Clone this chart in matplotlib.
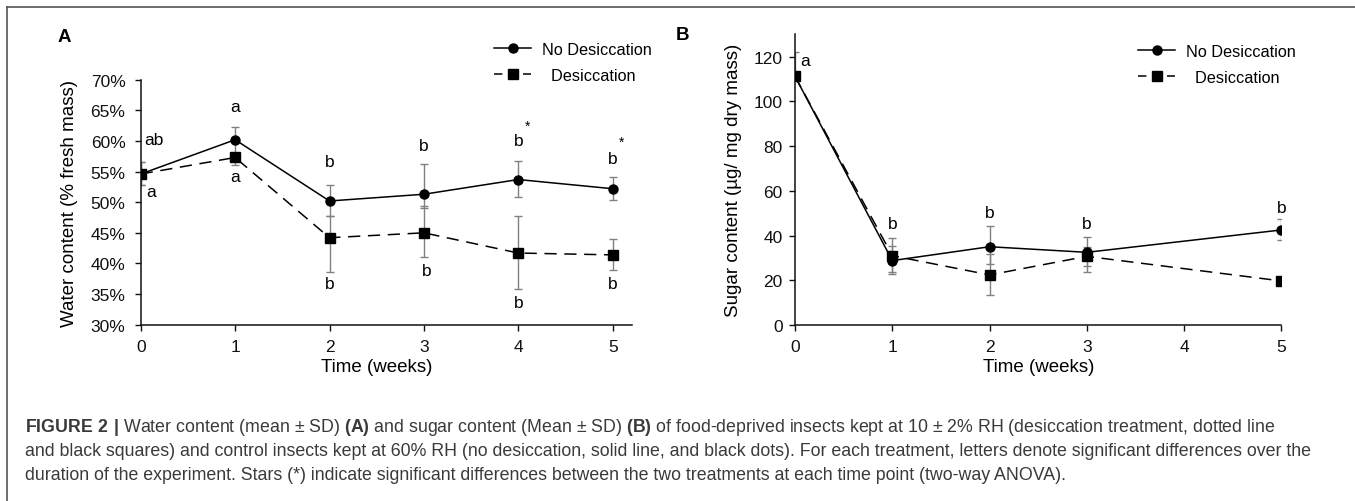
import matplotlib
matplotlib.use("Agg")
import matplotlib.pyplot as plt
from matplotlib.lines import Line2D

plt.rcParams['font.family'] = ['Liberation Sans', 'DejaVu Sans']
plt.rcParams['mathtext.fontset'] = 'custom'
plt.rcParams['mathtext.rm'] = 'Liberation Sans'
plt.rcParams['mathtext.bf'] = 'Liberation Sans:bold'

# --- data, panel A (water content, %)
weeks_a = [0, 1, 2, 3, 4, 5]
water_ctrl = [54.6, 60.2, 50.2, 51.3, 53.7, 52.2]
water_ctrl_lo = [52.8, 58.1, 47.7, 49.1, 50.9, 50.3]
water_ctrl_hi = [56.6, 62.3, 52.8, 56.3, 56.8, 54.1]
water_des = [54.6, 57.3, 44.2, 45.0, 41.7, 41.4]
water_des_lo = [52.8, 56.1, 38.6, 41.1, 35.8, 39.0]
water_des_hi = [56.6, 58.1, 47.7, 49.3, 47.7, 44.0]

# letters: (x, y, text)
letters_a = [(0.04, 60.3, 'ab'), (0.06, 51.7, 'a'),
             (1, 65.6, 'a'), (1, 54.2, 'a'),
             (2, 56.6, 'b'), (2, 36.7, 'b'),
             (3, 59.3, 'b'), (3.03, 38.8, 'b'),
             (4, 60.0, 'b'), (4, 33.7, 'b'),
             (5, 57.1, 'b'), (5, 36.7, 'b')]
stars_a = [(4.1, 62.4), (5.09, 59.8)]

# --- data, panel B (sugar content)
weeks_b = [0, 1, 2, 3, 5]
sugar_ctrl = [111.2, 28.8, 35.0, 32.5, 42.5]
sugar_ctrl_lo = [111.2, 22.8, 27.3, 26.5, 38.2]
sugar_ctrl_hi = [122.0, 38.9, 44.4, 39.5, 47.4]
sugar_des = [111.2, 31.0, 22.4, 30.7, 19.7]
sugar_des_lo = [111.2, 23.6, 13.6, 23.6, 19.7]
sugar_des_hi = [111.2, 35.5, 31.8, 34.7, 19.7]

letters_b = [(0.05, 118.5, 'a'), (1, 45.2, 'b'), (2, 50.4, 'b'),
             (3, 45.2, 'b'), (5, 52.6, 'b')]

series_names = ['No Desiccation', '  Desiccation']

caption = [
    r"$\mathbf{FIGURE\ 2\ |}$ Water content (mean ± SD) $\mathbf{(A)}$ and sugar content (Mean ± SD) $\mathbf{(B)}$ of food-deprived insects kept at 10 ± 2% RH (desiccation treatment, dotted line",
    "and black squares) and control insects kept at 60% RH (no desiccation, solid line, and black dots). For each treatment, letters denote significant differences over the",
    "duration of the experiment. Stars (*) indicate significant differences between the two treatments at each time point (two-way ANOVA).",
]

ecol = '#808080'
W, H = 1355, 502

fig = plt.figure(figsize=(W / 100, H / 100), dpi=100)


def style_axes(ax, ypad):
    for s in ['top', 'right']:
        ax.spines[s].set_visible(False)
    for s in ['left', 'bottom']:
        ax.spines[s].set_linewidth(1.1)
        ax.spines[s].set_color('#111111')
    ax.tick_params(direction='out', length=4, width=1.0, labelsize=12.5,
                   colors='#111111')
    ax.tick_params(axis='x', pad=6)
    ax.tick_params(axis='y', pad=ypad)


def draw_series(ax, x, y, lo, hi, ctrl):
    yerr = [[a - b for a, b in zip(y, lo)], [b - a for a, b in zip(y, hi)]]
    ax.errorbar(x, y, yerr=yerr, fmt='none', ecolor=ecol, elinewidth=1.0,
                capsize=3, capthick=1.0, zorder=2)
    if ctrl:
        ax.plot(x, y, color='black', lw=1.1, marker='o', ms=6.5, zorder=3)
    else:
        ax.plot(x, y, color='black', lw=1.1, ls=(0, (8, 5)), marker='s',
                ms=6.5, zorder=3)


# legend proxies (shorter dashes, as in the original key)
handles = [Line2D([], [], color='black', lw=1.1, marker='o', ms=6.5),
           Line2D([], [], color='black', lw=1.1, ls=(0, (5.5, 4)),
                  marker='s', ms=6.5)]
leg_kw = dict(frameon=False, fontsize=11.7, handlelength=2.3,
              handletextpad=0.65, labelspacing=0.7, borderaxespad=0)

# panel A
axa = fig.add_axes([140.7 / W, 1 - 325.7 / H, 490.9 / W, 245 / H])
draw_series(axa, weeks_a, water_ctrl, water_ctrl_lo, water_ctrl_hi, True)
draw_series(axa, weeks_a, water_des, water_des_lo, water_des_hi, False)
axa.set_xlim(0, 5.2)
axa.set_ylim(30, 70)
axa.set_xticks(range(6))
axa.set_yticks(range(30, 71, 5))
axa.set_yticklabels(['%d%%' % v for v in range(30, 71, 5)])
style_axes(axa, 7)
axa.set_xlabel('Time (weeks)', fontsize=13.5)
axa.set_ylabel('Water content (% fresh mass)', fontsize=13.5)
axa.xaxis.set_label_coords(0.481, -0.135)
axa.yaxis.set_label_coords(-0.1287, 0.5)
for x, y, t in letters_a:
    axa.text(x, y, t, ha='left' if x < 0.5 else 'center', va='center',
             fontsize=12.5)
for x, y in stars_a:
    axa.text(x, y, '*', ha='center', va='center', fontsize=10)
axa.legend(handles, series_names, loc='upper left',
           bbox_to_anchor=(487.5 / W, 0.928),
           bbox_transform=fig.transFigure, **leg_kw)

# panel B
axb = fig.add_axes([795 / W, 1 - 326 / H, 486.4 / W, 290.7 / H])
draw_series(axb, weeks_b, sugar_ctrl, sugar_ctrl_lo, sugar_ctrl_hi, True)
draw_series(axb, weeks_b, sugar_des, sugar_des_lo, sugar_des_hi, False)
axb.set_xlim(0, 5)
axb.set_ylim(0, 130)
axb.set_xticks(range(6))
axb.set_yticks(range(0, 121, 20))
style_axes(axb, 5)
axb.set_xlabel('Time (weeks)', fontsize=13.5)
axb.set_ylabel('Sugar content (µg/ mg dry mass)', fontsize=13.5)
axb.xaxis.set_label_coords(0.502, -0.114)
axb.yaxis.set_label_coords(-0.108, 0.5)
for x, y, t in letters_b:
    axb.text(x, y, t, ha='left' if x < 0.5 else 'center', va='center',
             fontsize=12.5)
axb.legend(handles, series_names, loc='upper left',
           bbox_to_anchor=(1131.5 / W, 0.924),
           bbox_transform=fig.transFigure, **leg_kw)

# panel letters
fig.text(58 / W, 1 - 37 / H, 'A', fontsize=13.5, fontweight='bold', va='center')
fig.text(676 / W, 1 - 36 / H, 'B', fontsize=13.5, fontweight='bold', va='center')

# frame lines of the figure box
fig.add_artist(Line2D([7 / W, 7 / W], [0, 1 - 8 / H],
                      transform=fig.transFigure, color='#555555', lw=1.2))
fig.add_artist(Line2D([7 / W, 1], [1 - 8 / H, 1 - 8 / H],
                      transform=fig.transFigure, color='#555555', lw=1.2))

# caption
for i, line in enumerate(caption):
    fig.text(25 / W, 1 - (428 + 24 * i) / H, line, fontsize=12.8,
             color='#3a3a3a', va='center', ha='left')

fig.savefig('out.png', dpi=100)
